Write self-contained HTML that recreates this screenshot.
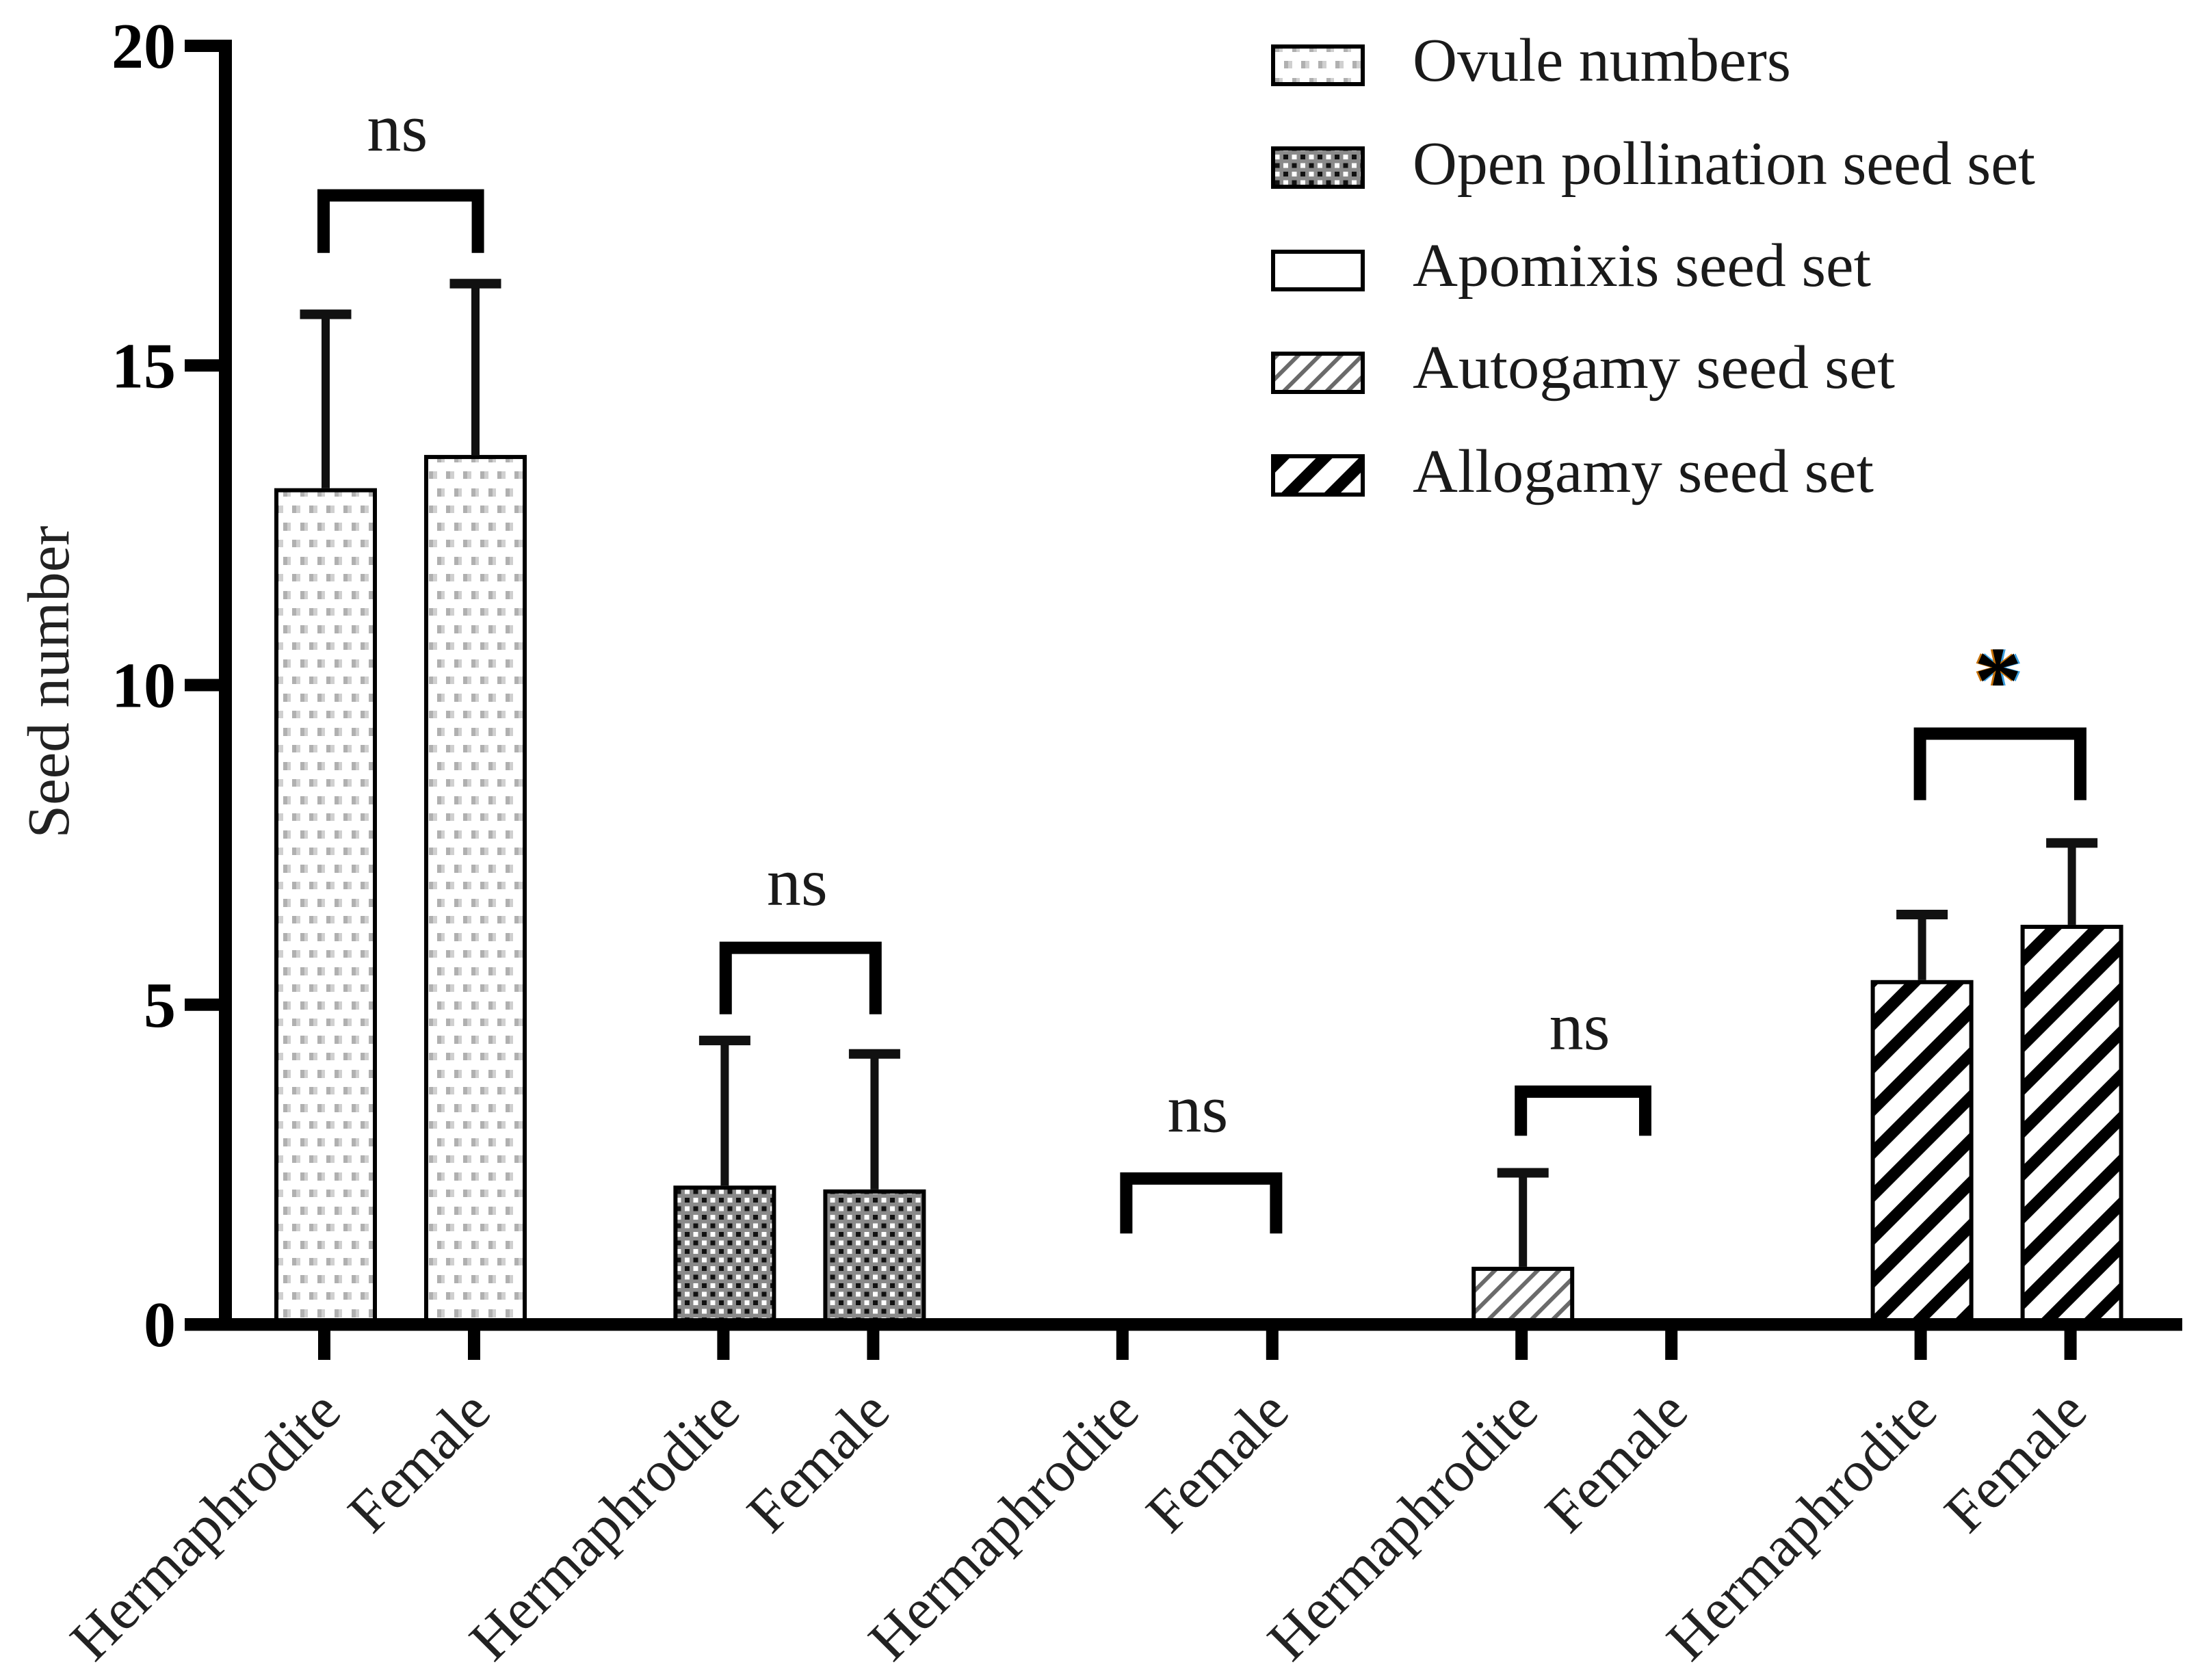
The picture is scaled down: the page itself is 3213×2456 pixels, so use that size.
<!DOCTYPE html>
<html>
<head>
<meta charset="utf-8">
<title>Seed number chart</title>
<style>
html,body{margin:0;padding:0;background:#fff;}
svg{display:block;font-family:"Liberation Serif",serif;}
</style>
</head>
<body>
<svg id="chart" xmlns="http://www.w3.org/2000/svg" width="3213" height="2456" viewBox="0 0 3213 2456">
<defs>
<pattern id="p-dots" patternUnits="userSpaceOnUse" width="25" height="50">
<rect x="14" y="14" width="6" height="12" fill="#b0b0b0"/>
<rect x="20" y="14" width="6" height="12" fill="#d0d0d0"/>
<rect x="2" y="39" width="6" height="11" fill="#b0b0b0"/>
<rect x="8" y="39" width="6" height="11" fill="#d0d0d0"/>
</pattern>
<pattern id="p-check" patternUnits="userSpaceOnUse" width="25" height="25">
<rect width="25" height="25" fill="#8a8a8a"/>
<rect x="1" y="1" width="7" height="7" fill="#111"/>
<rect x="13.5" y="13.5" width="7" height="7" fill="#111"/>
<rect x="13.5" y="1" width="7" height="7" fill="#fff"/>
<rect x="1" y="13.5" width="7" height="7" fill="#fff"/>
</pattern>
<pattern id="p-light" patternUnits="userSpaceOnUse" width="22.1" height="22.1" patternTransform="rotate(45) translate(4.6 0)">
<rect width="6" height="22.1" fill="#6a6a6a"/>
</pattern>
<pattern id="p-bold" patternUnits="userSpaceOnUse" width="44.3" height="44.3" patternTransform="rotate(45) translate(17.5 0)">
<rect width="17" height="44.3" fill="#000"/>
</pattern>
</defs>
<rect width="3213" height="2456" fill="#fff"/>
<g id="plot"></g>

<g font-size="90" fill="#1a1a1a">
<g>
<rect x="1861" y="68" width="131" height="55" fill="url(#p-dots)" stroke="#000" stroke-width="6"/>
<text x="2065" y="118" textLength="553" lengthAdjust="spacingAndGlyphs">Ovule numbers</text>
</g>
<g>
<rect x="1861" y="217" width="131" height="56" fill="url(#p-check)" stroke="#000" stroke-width="6"/>
<text x="2065" y="269" textLength="910" lengthAdjust="spacingAndGlyphs">Open pollination seed set</text>
</g>
<g>
<rect x="1861" y="368" width="131" height="55" fill="#fff" stroke="#000" stroke-width="6"/>
<text x="2065" y="418" textLength="670" lengthAdjust="spacingAndGlyphs">Apomixis seed set</text>
</g>
<g>
<rect x="1861" y="517" width="131" height="56" fill="url(#p-light)" stroke="#000" stroke-width="6"/>
<text x="2065" y="567" textLength="705" lengthAdjust="spacingAndGlyphs">Autogamy seed set</text>
</g>
<g>
<rect x="1861" y="667" width="131" height="56" fill="url(#p-bold)" stroke="#000" stroke-width="6"/>
<text x="2065" y="719" textLength="674" lengthAdjust="spacingAndGlyphs">Allogamy seed set</text>
</g>
</g>

<text transform="translate(100,997) rotate(-90)" text-anchor="middle" font-size="87" fill="#222">Seed number</text>
</svg>

<script>
// chart data
var categories = ["Hermaphrodite","Female","Hermaphrodite","Female","Hermaphrodite","Female","Hermaphrodite","Female","Hermaphrodite","Female"];
var seriesFill = ["dots","dots","check","check","none","none","light","light","bold","bold"];
var barValues = [13.08,13.6,2.17,2.11,0,0,0.9,0,5.385,6.25];
var errorTops = [15.8,16.28,4.44,4.23,0,0,2.37,0,6.41,7.53];
var yTickLabels = [0,5,10,15,20];
var sigLabels = ["ns","ns","ns","ns","*"];
var bracketStarts = [0,2.02,4.03,6,8];
var bracketEnds = [1.03,3.02,5.03,6.83,9.07];
var bracketTops = [17.66,5.89,2.28,3.64,9.24];
var bracketBottoms = [16.76,4.85,1.42,2.95,8.2];
var sigValues = [18.36,6.56,3.01,4.3,9.57];

// axis functions
function yScale(v){ return 1936 - v * 93.45; }
function xScale(c){
  var g = Math.floor(c / 2);
  return 476 + 583.4 * g + 219 * (c - 2 * g);
}

var NS = "http://www.w3.org/2000/svg";
var plot = document.getElementById("plot");
function mk(tag, attrs, parent){
  var el = document.createElementNS(NS, tag);
  for (var k in attrs) el.setAttribute(k, attrs[k]);
  (parent || plot).appendChild(el);
  return el;
}
var fills = {dots:"url(#p-dots)", check:"url(#p-check)", light:"url(#p-light)", bold:"url(#p-bold)", none:"#fff"};

// bars and error bars
categories.forEach(function(cat, i){
  if (barValues[i] <= 0) return;
  var cx = xScale(i);
  var top = yScale(barValues[i]);
  var capY = yScale(errorTops[i]);
  var stem = mk("rect", {x: cx - 6, y: capY, width: 12, height: top - capY, fill: "#111"});
  
  
  var cap = mk("rect", {x: cx - 37.5, y: capY - 7, width: 75, height: 14, fill: "#111"});
  
  
  var bar = mk("rect", {x: cx - 72, y: top + 3, width: 144, height: yScale(0) - top - 3, fill: fills[seriesFill[i]], stroke: "#000", "stroke-width": 6});
  
  
});

// axes
var yAxis = mk("rect", {x: 320, y: yScale(20) - 9, width: 19, height: yScale(0) - yScale(20) + 18, fill: "#000"});


var xAxis = mk("rect", {x: 270, y: yScale(0) - 9, width: 2920, height: 18.5, fill: "#000"});



yTickLabels.forEach(function(v){
  var y = yScale(v);
  var t = mk("rect", {x: 270, y: y - 9, width: 52, height: 18, fill: "#000"});
  
  
  var l = mk("text", {x: 257, y: y + 32, "text-anchor": "end", "font-size": 94, "font-weight": "bold", fill: "#000"});
  l.textContent = String(v);
  
  
});

categories.forEach(function(cat, i){
  var cx = xScale(i) - 2;
  var t = mk("rect", {x: cx - 9, y: yScale(0) + 9, width: 18, height: 43, fill: "#000"});
  
  
  var ax = cx + 28, ay = 2068;
  var l = mk("text", {transform: "translate(" + ax + "," + ay + ") rotate(-45)", "text-anchor": "end", "font-size": 85, fill: "#222"});
  l.textContent = cat;
  
  
});

// significance brackets
sigLabels.forEach(function(lab, i){
  var x0 = xScale(bracketStarts[i]) - 3;
  var x1 = xScale(bracketEnds[i]) - 3;
  var yt = yScale(bracketTops[i]);
  var yb = yScale(bracketBottoms[i]);
  var p = mk("path", {d: "M" + x0 + " " + yb + "V" + yt + "H" + x1 + "V" + yb, fill: "none", stroke: "#000", "stroke-width": 18, "stroke-linejoin": "miter"});
  
  
  var cx = (x0 + x1) / 2;
  var isStar = lab === "*";
  var t = mk("text", {x: isStar ? cx - 3 : cx - 5, y: yScale(sigValues[i]), "text-anchor": "middle", "font-size": isStar ? 140 : 100, "font-weight": isStar ? "bold" : "normal", fill: isStar ? "#000" : "#1a1a1a"});
  if (isStar) t.setAttribute("style", "text-shadow:-3px 0 0 #c8730a,3px 0 0 #3a9fe0");
  t.textContent = lab;
  
  
});
</script>
</body>
</html>
